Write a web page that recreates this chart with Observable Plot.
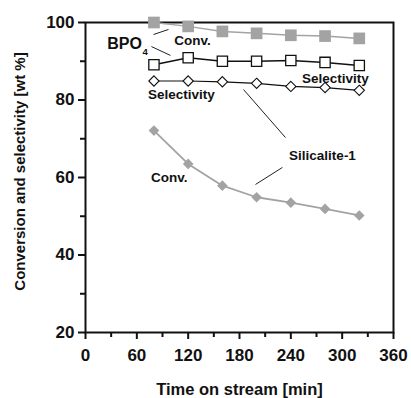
<!DOCTYPE html>
<html><head><meta charset="utf-8">
<script src="https://cdn.jsdelivr.net/npm/d3@7"></script>
<script src="https://cdn.jsdelivr.net/npm/@observablehq/plot@0.6"></script>
<style>
body{margin:0;background:#fff}
#chart g[aria-label$="tick label"], #chart g[aria-label$="tick label"] text { font-size: 17px !important; font-weight: bold; }
</style>
</head><body><div id="chart"></div>
<script>
const time = [80, 120, 160, 200, 240, 280, 320];
const bpo4Conv = [100, 99, 97.7, 97.2, 96.7, 96.5, 95.9];
const bpo4Sel = [89.1, 90.9, 90.0, 90.0, 90.2, 89.7, 88.9];
const silSel = [84.9, 84.9, 84.7, 84.3, 83.5, 83.2, 82.5];
const silConv = [72.1, 63.5, 57.9, 54.9, 53.5, 51.9, 50.2];

const xTicks = [0, 60, 120, 180, 240, 300, 360];
const xMinor = [30, 90, 150, 210, 270, 330];
const yTicks = [20, 40, 60, 80, 100];
const yMinor = [30, 50, 70, 90];

const labelText = ["Conv.", "Selectivity", "Selectivity", "Silicalite-1", "Conv."];
const labelX = [125, 292, 112, 277, 98];
const labelY = [95.4, 85.5, 81.4, 65.7, 60];
const bigText = ["BPO"];
const bigX = [45.6];
const bigY = [94.6];
const subText = ["4"];
const subX = [69.8];
const subY = [92.5];

const leadX1 = [79.5, 77, 184.7, 230.2];
const leadY1 = [96.9, 93.8, 82.7, 62.6];
const leadX2 = [97, 99.3, 233.8, 198.7];
const leadY2 = [98.2, 91.5, 70.3, 58.2];

const toRows = (ys) => time.map((t, i) => ({t, v: ys[i]}));
const labels = labelText.map((s, i) => ({s, x: labelX[i], y: labelY[i]}));
const bigs = bigText.map((s, i) => ({s, x: bigX[i], y: bigY[i]}));
const subs = subText.map((s, i) => ({s, x: subX[i], y: subY[i]}));
const leaders = leadX1.map((x1, i) => ({x1, y1: leadY1[i], x2: leadX2[i], y2: leadY2[i]}));

const squareSym = {draw(ctx, size) {const s = Math.sqrt(size) / 2; ctx.moveTo(-s, -s); ctx.lineTo(s, -s); ctx.lineTo(s, s); ctx.lineTo(-s, s); ctx.closePath();}};
const diamondSym = {draw(ctx, size) {const s = Math.sqrt(size) / 2; ctx.moveTo(0, -s); ctx.lineTo(s, 0); ctx.lineTo(0, s); ctx.lineTo(-s, 0); ctx.closePath();}};

const gray = "#a3a3a3";
const font = "'Liberation Sans', Arial, Helvetica, sans-serif";

const chart = Plot.plot({
  width: 411, height: 398,
  marginLeft: 85, marginRight: 18, marginTop: 22, marginBottom: 66,
  style: {fontFamily: font, fontWeight: "bold", fontSize: "16px", color: "#111", background: "#fff"},
  x: {domain: [0, 360]},
  y: {domain: [20, 100]},
  marks: [
    Plot.axisX({ticks: xTicks, tickSize: 7, tickPadding: 9, strokeWidth: 2, label: null, tickFormat: d => d}),
    Plot.axisX({ticks: xMinor, tickSize: 5, strokeWidth: 2, text: null, label: null}),
    Plot.axisY({ticks: yTicks, tickSize: 7, tickPadding: 4, strokeWidth: 2, label: null}),
    Plot.axisY({ticks: yMinor, tickSize: 5, strokeWidth: 2, text: null, label: null}),
    Plot.frame({stroke: "#111", strokeWidth: 2}),
    Plot.text(["Conversion and selectivity [wt %]"], {frameAnchor: "left", textAnchor: "middle", lineAnchor: "middle", rotate: -90, dx: -65, dy: -6, fontSize: 15}),
    Plot.text(["Time on stream [min]"], {frameAnchor: "bottom", lineAnchor: "middle", dy: 57, fontSize: 16.5}),
    Plot.link(leaders, {x1: "x1", y1: "y1", x2: "x2", y2: "y2", stroke: "#222", strokeWidth: 1}),
    Plot.line(toRows(bpo4Conv), {x: "t", y: "v", stroke: gray, strokeWidth: 1.5}),
    Plot.line(toRows(bpo4Sel), {x: "t", y: "v", stroke: "#111", strokeWidth: 1.5}),
    Plot.line(toRows(silSel), {x: "t", y: "v", stroke: "#111", strokeWidth: 1.2}),
    Plot.line(toRows(silConv), {x: "t", y: "v", stroke: gray, strokeWidth: 1.8}),
    Plot.dot(toRows(bpo4Conv), {x: "t", y: "v", symbol: squareSym, r: 6.6, fill: gray, stroke: "none"}),
    Plot.dot(toRows(bpo4Sel), {x: "t", y: "v", symbol: squareSym, r: 5.8, fill: "#fff", stroke: "#111", strokeWidth: 1.3}),
    Plot.dot(toRows(silSel), {x: "t", y: "v", symbol: diamondSym, r: 5.8, fill: "#fff", stroke: "#111", strokeWidth: 1.1}),
    Plot.dot(toRows(silConv), {x: "t", y: "v", symbol: diamondSym, r: 6.0, fill: gray, stroke: "none"}),
    Plot.text(labels, {x: "x", y: "y", text: "s", fontSize: 13.5, fill: "#111"}),
    Plot.text(bigs, {x: "x", y: "y", text: "s", fontSize: 16, fill: "#111"}),
    Plot.text(subs, {x: "x", y: "y", text: "s", fontSize: 9.5, fill: "#111"})
  ]
});
document.getElementById("chart").appendChild(chart);
</script></body></html>
